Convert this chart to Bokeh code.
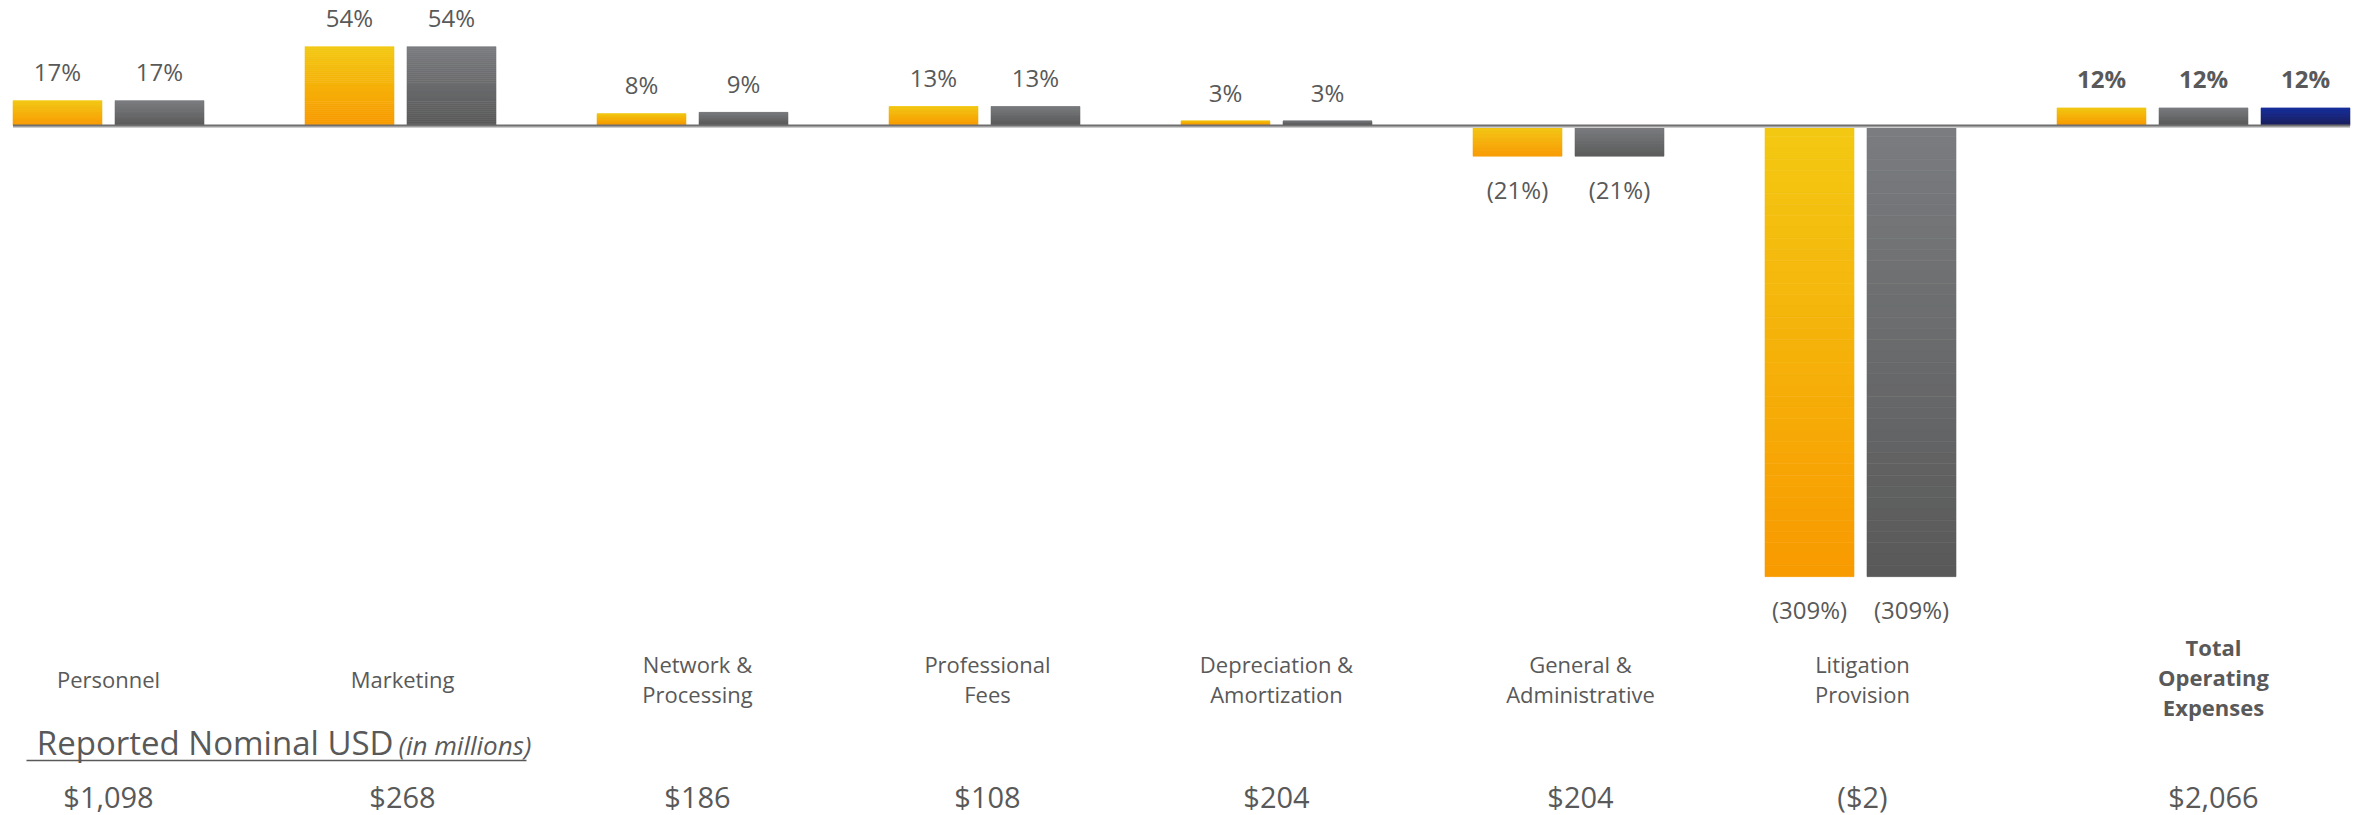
import numpy as np
from bokeh.plotting import figure
from bokeh.models import Range1d, ColumnDataSource
from bokeh.core.properties import value
from bokeh.embed import file_html
from bokeh.resources import INLINE

# ---------------- data ----------------
categories = ["Personnel", "Marketing", "Network &\nProcessing", "Professional\nFees",
              "Depreciation &\nAmortization", "General &\nAdministrative",
              "Litigation\nProvision", "Total\nOperating\nExpenses"]
growth_yellow = [17, 54, 8, 13, 3, -21, -309, 12]
growth_gray = [17, 54, 9, 13, 3, -21, -309, 12]
growth_blue = [None, None, None, None, None, None, None, 12]
nominal_usd = [1098, 268, 186, 108, 204, 204, -2, 2066]
nominal_title = "Reported Nominal USD"
nominal_note = "(in millions)"

# ---------------- layout / style ----------------
W, H = 2359, 815
GROUP_PX = 292.0
BAR_PITCH = 102.0 / GROUP_PX
BAR_W = 89.0 / GROUP_PX
PX_PER_PCT = 1.46
X0 = -108.0 / GROUP_PX
BASE_Y = 125.0
Y_TOP = BASE_Y / PX_PER_PCT
Y_BOT = Y_TOP - H / PX_PER_PCT

FONT = "Open Sans"
TXT = "#595959"
GRADS = [("#F3C913", "#F89A00"), ("#7A7C7F", "#595959"), ("#17309F", "#1C1F5C")]
LABEL_NUDGE_PX = [0, 2, 5, 3, 0, 12, 2, 10]


def fx(px):  # page px -> data x
    return X0 + px / GROUP_PX


def fy(py):  # page px -> data y
    return Y_TOP - py / PX_PER_PCT


def hex2rgb(h):
    h = h.lstrip("#")
    return np.array([int(h[i:i + 2], 16) for i in (0, 2, 4)], dtype=float)


def mix(c1, c2, t):
    a, b = hex2rgb(c1), hex2rgb(c2)
    c = a + (b - a) * t
    return "#%02x%02x%02x" % tuple(int(round(v)) for v in c)


p = figure(width=W, height=H, output_backend="svg", toolbar_location=None,
           x_range=Range1d(X0, X0 + W / GROUP_PX), y_range=Range1d(Y_BOT, Y_TOP),
           x_axis_location=None, y_axis_location=None, min_border=0,
           outline_line_color=None, background_fill_color="white",
           border_fill_color="white")
p.grid.visible = False

series = [growth_yellow, growth_gray, growth_blue]
N = 40
q = dict(left=[], right=[], top=[], bottom=[], color=[])
lab = dict(x=[], y=[], text=[], yoff=[])
lab_b = dict(x=[], y=[], text=[], yoff=[])
group_centers = []
for i in range(len(categories)):
    centers = []
    for j, s in enumerate(series):
        v = s[i]
        if v is None:
            continue
        c = i + (j - 0.5) * BAR_PITCH
        centers.append(c)
        top, bot = (v, 0) if v >= 0 else (0, v)
        c_top, c_bot = GRADS[j]
        for k in range(N):
            t1 = top - (top - bot) * k / N
            t2 = top - (top - bot) * (k + 1) / N
            q["left"].append(c - BAR_W / 2)
            q["right"].append(c + BAR_W / 2)
            q["top"].append(t1)
            q["bottom"].append(t2)
            q["color"].append(mix(c_top, c_bot, (k + 0.5) / N))
        d = lab_b if i == len(categories) - 1 else lab
        d["x"].append(c)
        d["y"].append(v)
        d["text"].append(f"{v}%" if v >= 0 else f"({abs(v)}%)")
        d["yoff"].append(-29 if v >= 0 else 33)
    group_centers.append(np.mean(centers) + LABEL_NUDGE_PX[i] / GROUP_PX)

p.quad(left="left", right="right", top="top", bottom="bottom", fill_color="color",
       line_color="color", line_width=0.6, source=ColumnDataSource(q))

# baseline
x_start = 0 - 0.5 * BAR_PITCH - BAR_W / 2
x_end = (len(categories) - 1) + 1.5 * BAR_PITCH + BAR_W / 2
p.segment(x0=[x_start], x1=[x_end], y0=[-1.6 / PX_PER_PCT], y1=[-1.6 / PX_PER_PCT],
          line_color="#CDCDCD", line_width=2)
p.segment(x0=[x_start], x1=[x_end], y0=[0], y1=[0], line_color="#6F6F6F", line_width=2)

# percentage labels
p.text(x="x", y="y", text="text", y_offset="yoff", source=ColumnDataSource(lab),
       text_font=value(FONT), text_font_size="24px", text_color=TXT,
       text_align="center", text_baseline="middle")
p.text(x="x", y="y", text="text", y_offset="yoff", source=ColumnDataSource(lab_b),
       text_font=value(FONT), text_font_size="24px", text_color=TXT,
       text_font_style="bold", text_align="center", text_baseline="middle")

# category labels
n = len(categories)
p.text(x=group_centers[:-1], y=[fy(678)] * (n - 1), text=categories[:-1],
       text_font=value(FONT), text_font_size="22px", text_color=TXT,
       text_align="center", text_baseline="middle", text_line_height=1.0)
p.text(x=group_centers[-1:], y=[fy(676)], text=categories[-1:],
       text_font=value(FONT), text_font_size="22px", text_color=TXT,
       text_font_style="bold", text_align="center", text_baseline="middle",
       text_line_height=1.0)

# nominal USD header
p.text(x=[fx(393)], y=[fy(742)], text=[nominal_title], text_font=value(FONT),
       text_font_size="33px", text_color=TXT, text_align="right", text_baseline="middle")
p.text(x=[fx(398)], y=[fy(744)], text=[nominal_note], text_font=value(FONT),
       text_font_size="26px", text_color=TXT, text_font_style="italic",
       text_align="left", text_baseline="middle")
p.segment(x0=[fx(26)], x1=[fx(526)], y0=[fy(760)], y1=[fy(760)], line_color=TXT,
          line_width=1.5)

# nominal values
vals = [f"${v:,}" if v >= 0 else f"(${abs(v):,})" for v in nominal_usd]
p.text(x=group_centers, y=[fy(796)] * n, text=vals, text_font=value(FONT),
       text_font_size="29px", text_color=TXT, text_align="center", text_baseline="middle")

open("out.html", "w").write(file_html(p, INLINE))
